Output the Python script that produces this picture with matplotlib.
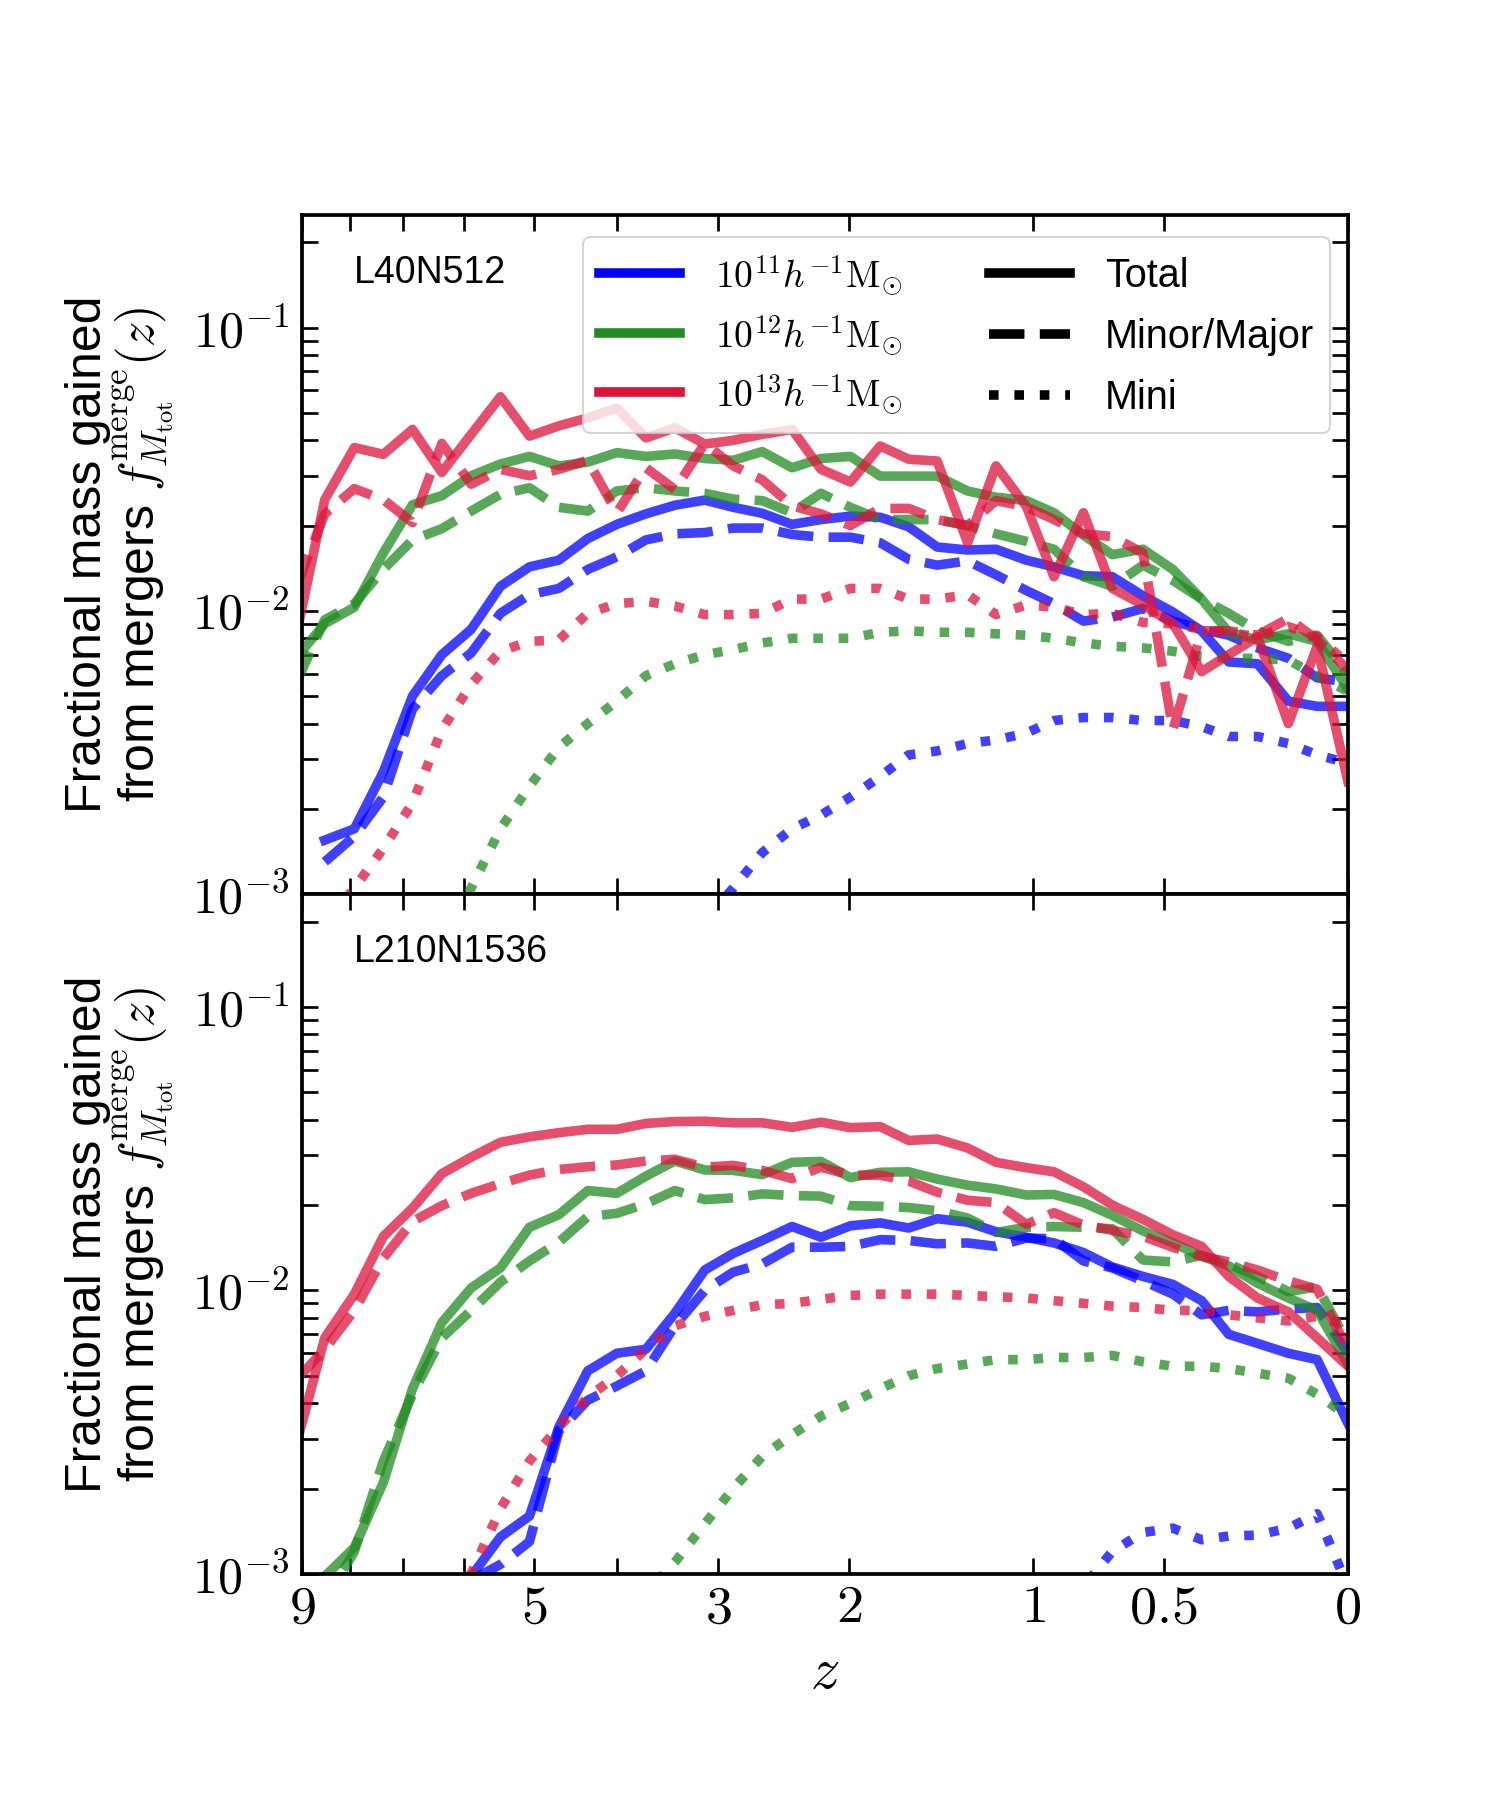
import numpy as np
import matplotlib
matplotlib.use('Agg')
import matplotlib.pyplot as plt
from matplotlib.lines import Line2D
from matplotlib.ticker import FuncFormatter, NullLocator

nan = np.nan

# snapshot redshifts (shared by every curve)
z_snap = [9.14, 8.51, 7.91, 7.36, 6.84, 6.35, 5.89, 5.46, 5.06, 4.68, 4.33, 4.00,
          3.69, 3.40, 3.12, 2.87, 2.63, 2.40, 2.19, 1.99, 1.80, 1.63, 1.47, 1.31,
          1.17, 1.03, 0.91, 0.79, 0.68, 0.57, 0.47, 0.38, 0.30, 0.22, 0.14, 0.07, 0.0]

# ---- L40N512 ----
top_11_total = [nan, 0.00155, 0.0017, 0.0027, 0.005, 0.007, 0.0086, 0.0122, 0.0143, 0.0151,
                0.018, 0.0202, 0.022, 0.0236, 0.0246, 0.0232, 0.0221, 0.0202, 0.021, 0.0216,
                0.0214, 0.0198, 0.0168, 0.0164, 0.0165, 0.0151, 0.0143, 0.0133, 0.0132, 0.0113,
                0.0099, 0.0085, 0.0066, 0.0065, 0.0048, 0.0046, 0.0046]
top_11_major = [nan, 0.0013, 0.0016, 0.0022, 0.0045, 0.0059, 0.0071, 0.0098, 0.0114, 0.012,
                0.014, 0.0155, 0.0178, 0.0187, 0.0189, 0.0196, 0.0196, 0.0186, 0.0182, 0.0182,
                0.0174, 0.0152, 0.0145, 0.015, 0.0134, 0.0118, 0.0106, 0.0092, 0.0095, 0.0102,
                0.0092, 0.0086, 0.0082, 0.0074, 0.0068, 0.0058, 0.0056]
top_11_mini = [nan, nan, nan, nan, nan, nan, nan, nan, nan, nan, nan, nan,
               0.00045, 0.0006, 0.0008, 0.00105, 0.0014, 0.0017, 0.0019, 0.0022, 0.0026,
               0.0031, 0.0032, 0.0034, 0.0035, 0.0037, 0.0041, 0.0042, 0.0042, 0.0041,
               0.0041, 0.0039, 0.0036, 0.0036, 0.0034, 0.0031, 0.0029]

top_12_total = [0.0068, 0.009, 0.0103, 0.016, 0.0237, 0.0255, 0.030, 0.033, 0.0351, 0.0325,
                0.0335, 0.0362, 0.0351, 0.0358, 0.0345, 0.034, 0.0365, 0.032, 0.0345, 0.0351,
                0.0299, 0.0299, 0.0299, 0.0265, 0.0252, 0.0245, 0.0222, 0.0185, 0.0158, 0.0165,
                0.014, 0.011, 0.0084, 0.0079, 0.0083, 0.0078, 0.0053]
top_12_major = [0.0055, 0.0093, 0.0106, 0.014, 0.0178, 0.0195, 0.0225, 0.0258, 0.0272, 0.0232,
                0.0225, 0.0265, 0.0272, 0.0265, 0.026, 0.0248, 0.0245, 0.0222, 0.026, 0.0232,
                0.021, 0.021, 0.021, 0.020, 0.0187, 0.0176, 0.0165, 0.0132, 0.0122, 0.0145,
                0.0128, 0.011, 0.0098, 0.0085, 0.0078, 0.0082, 0.006]
top_12_mini = [nan, 0.00015, 0.00025, 0.0004, 0.0006, 0.0007, 0.00105, 0.0017, 0.0024, 0.0033,
               0.004, 0.0048, 0.0059, 0.0065, 0.007, 0.0073, 0.0077, 0.008, 0.008, 0.008,
               0.0084, 0.0085, 0.0084, 0.0084, 0.0083, 0.0082, 0.008, 0.0077, 0.0075, 0.0074,
               0.0072, 0.0069, 0.0068, 0.0068, 0.0067, 0.0059, 0.0052]

top_13_total = [0.008, 0.0247, 0.0377, 0.0357, 0.0437, 0.0308, 0.042, 0.057, 0.0414, 0.045,
                0.048, 0.052, 0.0408, 0.0443, 0.0388, 0.040, 0.042, 0.0437, 0.0316, 0.0285,
                0.0382, 0.0343, 0.0338, 0.0174, 0.0325, 0.0234, 0.0132, 0.0222, 0.012, 0.0105,
                0.009, 0.0061, 0.007, 0.0081, 0.0040, 0.0075, 0.0025]
top_13_major = [0.012, 0.022, 0.027, 0.0247, 0.0205, 0.039, 0.028, 0.0316, 0.030, 0.0316,
                0.034, 0.0222, 0.032, 0.0268, 0.039, 0.0325, 0.029, 0.0235, 0.022, 0.020,
                0.023, 0.023, 0.021, 0.020, 0.0245, 0.0233, 0.021, 0.0187, 0.0183, 0.016,
                0.0038, 0.0085, 0.0085, 0.0082, 0.0094, 0.0079, 0.0062]
top_13_mini = [0.0006, 0.00078, 0.00105, 0.00145, 0.0021, 0.0038, 0.0055, 0.0072, 0.0078, 0.0079,
               0.0098, 0.0106, 0.0108, 0.0104, 0.0097, 0.0097, 0.0098, 0.011, 0.011, 0.012,
               0.012, 0.011, 0.011, 0.0114, 0.0097, 0.0105, 0.0103, 0.0097, 0.0098, 0.0091,
               0.009, 0.0086, 0.0084, 0.0081, 0.0088, 0.0081, 0.0065]

# ---- L210N1536 ----
bot_11_total = [nan, nan, nan, nan, nan, nan,
                0.00098, 0.00135, 0.0016, 0.0033, 0.0052, 0.006, 0.0062, 0.0083, 0.0118, 0.0135,
                0.015, 0.0168, 0.0154, 0.0169, 0.0173, 0.0166, 0.0179, 0.0174, 0.0161, 0.0154,
                0.0147, 0.0136, 0.0121, 0.0112, 0.0105, 0.0092, 0.007, 0.0065, 0.006, 0.0057, 0.0034]
bot_11_major = [nan, nan, nan, nan, nan, nan,
                0.00095, 0.00108, 0.0013, 0.0032, 0.0041, 0.0046, 0.0052, 0.0075, 0.01, 0.0116,
                0.0124, 0.0142, 0.0142, 0.0143, 0.0151, 0.015, 0.0146, 0.0147, 0.0143, 0.0153,
                0.0152, 0.0127, 0.012, 0.0108, 0.0097, 0.0082, 0.0085, 0.0084, 0.0086, 0.0087, 0.006]
bot_11_mini = [nan, nan, nan, nan, nan, nan, nan, nan, nan, nan, nan, nan, nan,
               nan, nan, nan, nan, nan, nan, nan, nan, nan, nan, nan, nan, nan,
               0.0007, 0.0009, 0.0012, 0.0014, 0.00145, 0.00132, 0.00136, 0.00137, 0.00145,
               0.00163, 0.0009]

bot_12_total = [0.0006, 0.00098, 0.00124, 0.0021, 0.0045, 0.0077, 0.0102, 0.012, 0.0167, 0.0185,
                0.0225, 0.022, 0.0253, 0.0286, 0.0266, 0.0265, 0.0256, 0.0283, 0.0285, 0.025,
                0.0261, 0.0262, 0.0247, 0.0235, 0.0228, 0.0217, 0.0218, 0.0204, 0.0184, 0.0162,
                0.0147, 0.0132, 0.0122, 0.0106, 0.0094, 0.0085, 0.0055]
bot_12_major = [0.0005, 0.0008, 0.0012, 0.0025, 0.0043, 0.0068, 0.0085, 0.0107, 0.0127, 0.0148,
                0.0182, 0.0187, 0.0202, 0.0225, 0.0209, 0.0212, 0.0219, 0.0216, 0.0215, 0.0199,
                0.0198, 0.0196, 0.0191, 0.018, 0.016, 0.0167, 0.0168, 0.0167, 0.0165, 0.0128,
                0.0126, 0.0133, 0.0124, 0.0112, 0.0099, 0.0103, 0.0065]
bot_12_mini = [nan, nan, nan, nan, nan, nan, nan, nan, nan, nan,
               0.0004, 0.0006, 0.00085, 0.0011, 0.0015, 0.002, 0.0026, 0.0031, 0.0036, 0.004,
               0.0045, 0.005, 0.0053, 0.0055, 0.0057, 0.0057, 0.0058, 0.0058, 0.0059, 0.0056,
               0.0054, 0.0054, 0.0053, 0.0051, 0.0049, 0.0043, 0.0036]

bot_13_total = [0.0028, 0.0068, 0.0097, 0.0155, 0.0195, 0.0258, 0.0295, 0.0333, 0.0348, 0.036,
                0.037, 0.037, 0.0388, 0.0394, 0.0395, 0.039, 0.039, 0.0376, 0.0392, 0.0375,
                0.0378, 0.0338, 0.0342, 0.0318, 0.0283, 0.0271, 0.0262, 0.0232, 0.020, 0.0178,
                0.0157, 0.0143, 0.0112, 0.0094, 0.0084, 0.0068, 0.0054]
bot_13_major = [0.0048, 0.0062, 0.0085, 0.013, 0.0175, 0.0199, 0.022, 0.0238, 0.0255, 0.0267,
                0.0273, 0.0277, 0.0286, 0.029, 0.0272, 0.0276, 0.0265, 0.0248, 0.0272, 0.0255,
                0.0255, 0.0243, 0.0222, 0.0208, 0.0204, 0.0171, 0.0188, 0.017, 0.0163, 0.0155,
                0.0142, 0.0132, 0.0126, 0.0118, 0.0108, 0.0101, 0.0062]
bot_13_mini = [0.0003, 0.0004, 0.0005, 0.0006, 0.0007, 0.00085, 0.001, 0.0017, 0.0025, 0.0033,
               0.0042, 0.005, 0.0062, 0.0075, 0.0081, 0.0085, 0.0089, 0.009, 0.0093, 0.0096,
               0.0097, 0.0097, 0.0097, 0.0096, 0.0095, 0.0094, 0.0092, 0.009, 0.0088, 0.0087,
               0.0085, 0.0085, 0.0082, 0.008, 0.0078, 0.0081, 0.0075]

mass_labels = [r'$10^{11}h^{-1}{\rm M}_{\odot}$', r'$10^{12}h^{-1}{\rm M}_{\odot}$',
               r'$10^{13}h^{-1}{\rm M}_{\odot}$']
type_labels = ['Total', 'Minor/Major', 'Mini']
x_ticks = [9, 8, 7, 6, 5, 4, 3, 2, 1, 0.5, 0]
x_ticklabels = ['$9$', '', '', '', '$5$', '', '$3$', '$2$', '$1$', '$0.5$', '$0$']

panels = [
    ('L40N512', [[top_11_total, top_11_major, top_11_mini],
                 [top_12_total, top_12_major, top_12_mini],
                 [top_13_total, top_13_major, top_13_mini]]),
    ('L210N1536', [[bot_11_total, bot_11_major, bot_11_mini],
                   [bot_12_total, bot_12_major, bot_12_mini],
                   [bot_13_total, bot_13_major, bot_13_mini]]),
]

plt.rcParams['font.family'] = ['Liberation Sans', 'DejaVu Sans']
plt.rcParams['mathtext.fontset'] = 'cm'

colours = ['blue', 'forestgreen', 'crimson']
styles = ['-', '--', ':']
lw = 4.6

fig = plt.figure(figsize=(10, 12), dpi=150)
ax_top = fig.add_axes([0.2013, 0.5033, 0.6973, 0.3773])
ax_bot = fig.add_axes([0.2013, 0.1256, 0.6973, 0.3777], sharex=ax_top)

fwd = lambda z: np.log10(1 + np.asarray(z, dtype=float))
inv = lambda u: 10 ** np.asarray(u, dtype=float) - 1

for ax, (name, series) in zip([ax_top, ax_bot], panels):
    for col, group in zip(colours, series):
        for ls, vals in zip(styles, group):
            ax.plot(z_snap, vals, color=col, ls=ls, lw=lw, alpha=0.75)
    ax.set_yscale('log')
    ax.set_ylim(1e-3, 0.25)
    ax.yaxis.set_major_formatter(FuncFormatter(lambda v, p: r'$10^{%d}$' % round(np.log10(v))))
    ax.tick_params(which='both', direction='in', top=True, right=True,
                   length=7.5, width=1.3, labelsize=24, pad=6)
    for sp in ax.spines.values():
        sp.set_linewidth(1.8)
    ax.text(0.05, 0.915, name, transform=ax.transAxes, fontsize=18, va='center')
    ax.set_ylabel('Fractional mass gained\nfrom mergers $f^{\\rm merge}_{M_{\\rm tot}}(z)$',
                  fontsize=24, labelpad=8, linespacing=1.0)

ax_bot.set_xscale('function', functions=(fwd, inv))
ax_bot.set_xlim(9, 0)
ax_bot.set_xticks(x_ticks)
ax_bot.set_xticklabels(x_ticklabels)
ax_bot.xaxis.set_minor_locator(NullLocator())
ax_top.tick_params(labelbottom=False)
ax_bot.tick_params(axis='x', labelsize=26, pad=4.5)
ax_bot.set_xlabel('$z$', fontsize=28, labelpad=6)

handles = [Line2D([], [], color=c, lw=lw) for c in colours]
handles += [Line2D([], [], color='k', ls=s, lw=lw) for s in styles]
leg = ax_top.legend(handles, mass_labels + type_labels, ncol=2, loc='upper right',
                    bbox_to_anchor=(1.0, 0.993), fontsize=19, handlelength=2.05,
                    handletextpad=0.88, labelspacing=0.395, columnspacing=2.2,
                    borderaxespad=0.45)
for t in leg.get_texts()[:3]:
    t.set_fontsize(18)
# keep the rows of the two legend columns level
cols = leg._legend_handle_box.get_children()
cols[1].sep = 11.0

fig.savefig('out.png', dpi=150)
